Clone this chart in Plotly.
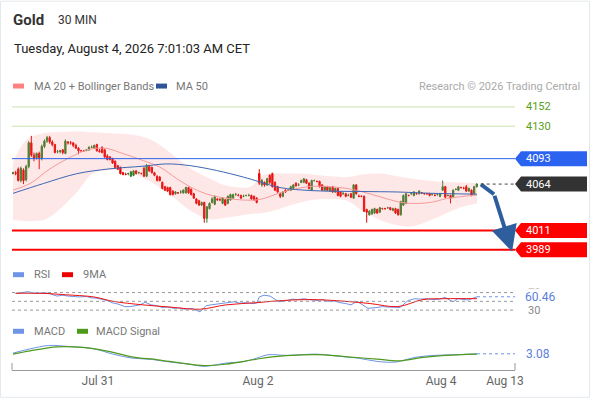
import plotly.graph_objects as go

# ---------------- data ----------------
open_ = [4076,4077,4081,4068,4080,4069,4084,4111,4097,4094,4099,4093,4107,4113,4117,4112,4109,4101,4101,4103,
         4099,4112,4111,4111,4108,4105,4102,4102,4102,4103,4106,4105,4109,4102,4106,4103,4096,4095,4093,4090,
         4085,4083,4077,4075,4076,4073,4074,4079,4077,4076,4082,4073,4084,4083,4077,4073,4072,4066,4061,4060,
         4060,4056,4053,4054,4055,4054,4054,4060,4058,4053,4047,4045,4040,4043,4025,4036,4043,4041,4047,4046,
         4042,4046,4042,4046,4048,4052,4051,4051,4050,4051,4051,4051,4050,4048,4076,4063,4066,4063,4074,4076,
         4066,4061,4053,4050,4057,4057,4057,4059,4065,4063,4066,4066,4069,4065,4057,4068,4067,4067,4063,4057,
         4061,4056,4061,4055,4059,4055,4053,4053,4051,4053,4048,4063,4050,4050,4050,4035,4029,4030,4031,4035,
         4032,4036,4036,4037,4037,4034,4036,4035,4029,4040,4042,4051,4053,4051,4053,4053,4054,4053,4053,4053,
         4052,4051,4052,4050,4057,4061,4051,4051,4049,4058,4057,4060,4059,4061,4056,4057,4053,4061]
high = [4078,4079,4083,4084,4082,4086,4113,4119,4100,4100,4101,4109,4115,4119,4119,4114,4110,4103,4103,4104,
        4115,4113,4113,4112,4110,4106,4103,4103,4104,4107,4108,4109,4110,4104,4107,4104,4098,4096,4094,4091,
        4086,4084,4078,4077,4077,4079,4080,4080,4078,4077,4084,4087,4086,4084,4078,4074,4073,4067,4062,4061,
        4061,4057,4056,4055,4057,4058,4061,4061,4059,4054,4048,4046,4044,4044,4039,4043,4049,4051,4048,4048,
        4049,4047,4051,4053,4053,4054,4053,4052,4052,4052,4053,4052,4051,4049,4081,4070,4067,4071,4075,4077,
        4067,4062,4054,4056,4058,4058,4062,4064,4066,4065,4069,4071,4070,4066,4069,4069,4068,4068,4064,4062,
        4062,4061,4062,4060,4060,4056,4055,4054,4053,4054,4064,4064,4052,4051,4051,4036,4034,4036,4037,4036,
        4038,4037,4037,4038,4038,4037,4037,4036,4045,4052,4054,4052,4054,4056,4054,4057,4055,4054,4054,4054,
        4053,4053,4053,4054,4068,4062,4052,4052,4058,4059,4062,4061,4061,4063,4060,4058,4062,4065]
low = [4075,4074,4067,4066,4064,4067,4082,4095,4090,4092,4081,4091,4105,4111,4110,4107,4099,4099,4099,4098,
       4098,4109,4109,4106,4104,4098,4101,4101,4102,4102,4105,4104,4101,4100,4099,4094,4091,4091,4087,4082,
       4080,4075,4074,4074,4074,4072,4073,4075,4076,4075,4072,4072,4078,4076,4073,4067,4067,4058,4056,4055,
       4051,4051,4052,4053,4053,4053,4053,4053,4051,4047,4041,4039,4039,4020,4020,4035,4042,4040,4045,4045,
       4041,4039,4041,4045,4047,4051,4050,4047,4049,4050,4050,4046,4045,4042,4063,4061,4061,4062,4064,4060,
       4056,4054,4048,4049,4054,4056,4056,4058,4061,4062,4065,4065,4064,4058,4056,4067,4066,4060,4056,4056,
       4056,4055,4054,4054,4050,4049,4052,4049,4050,4048,4047,4052,4049,4049,4032,4020,4028,4029,4030,4030,
       4031,4035,4035,4036,4034,4033,4030,4028,4028,4039,4041,4050,4052,4050,4052,4052,4053,4052,4052,4050,
       4051,4050,4051,4049,4056,4048,4050,4042,4048,4057,4056,4059,4058,4055,4055,4050,4052,4060]
close = [4077,4076,4068,4082,4068,4084,4111,4097,4093,4099,4094,4107,4113,4117,4112,4109,4100,4101,4102,4100,
         4113,4111,4111,4108,4105,4102,4102,4102,4103,4106,4106,4108,4102,4101,4100,4095,4092,4092,4088,4083,
         4081,4076,4075,4075,4076,4078,4079,4076,4077,4076,4073,4085,4079,4077,4074,4068,4068,4059,4057,4056,
         4052,4052,4055,4054,4055,4057,4060,4054,4052,4048,4042,4040,4043,4025,4038,4042,4047,4050,4046,4046,
         4048,4040,4050,4052,4052,4052,4051,4048,4050,4051,4051,4047,4046,4043,4065,4068,4063,4070,4066,4061,
         4057,4055,4050,4055,4055,4057,4061,4063,4062,4063,4068,4070,4065,4059,4068,4068,4067,4061,4057,4061,
         4057,4060,4055,4059,4051,4050,4053,4050,4051,4049,4063,4053,4050,4050,4033,4032,4033,4035,4036,4031,
         4037,4036,4036,4037,4035,4036,4031,4029,4044,4051,4053,4051,4053,4055,4053,4056,4054,4053,4053,4051,
         4052,4051,4052,4053,4061,4049,4051,4048,4057,4058,4061,4060,4059,4056,4059,4051,4061,4064]

ma20_idx = [0, 6.5, 14.1, 21.8, 29.4, 35.8, 40.8, 49.7, 56.1, 62.5, 68.8, 75.2, 81.6, 87.9, 94.3,
            101.9, 108.4, 114.5, 121, 127.5, 133.6, 140.1, 146.6, 151.5, 159.2, 165.6, 171.8, 177.1]
ma20 = [4057, 4064.6, 4081.4, 4094.5, 4103.9, 4104.6, 4100, 4090.8, 4083.3, 4070.2, 4059, 4051.5, 4047.8,
        4045.8, 4046.5, 4054, 4059, 4061.5, 4061, 4059, 4055, 4049.5, 4044, 4042, 4043, 4047.5, 4050, 4051.5]

ma50_idx = [0, 11.6, 24.3, 37, 49.7, 58.7, 67.6, 77.7, 87.9, 94.3, 101.9, 114.5, 133.6, 146.6, 159.2, 177.1]
ma50 = [4053.4, 4064.6, 4075.8, 4081.4, 4084.4, 4087, 4085, 4079.5, 4072, 4066.4, 4060, 4056.5, 4055.5,
        4055, 4053.5, 4052.5]

bb_idx = [0, 5.3, 11.5, 15.3, 24.4, 30.5, 37, 43.5, 52.3, 59.9, 67.6, 75.2, 81.7, 90.5, 95.4, 101.9,
          108.4, 114.5, 121, 127.5, 133.6, 140.1, 146.6, 152.7, 161.8, 169.5, 177.1]
bb_upper = [4089, 4115, 4122, 4123, 4124, 4123, 4122, 4121, 4115, 4100, 4082, 4070, 4062, 4061, 4074, 4076,
            4076, 4075, 4073, 4072, 4075, 4076, 4073, 4070, 4067, 4066, 4065]
bb_lower = [4023, 4022, 4023, 4029, 4055, 4076, 4080, 4079, 4067, 4052, 4034, 4024, 4026, 4030, 4031, 4036,
            4042, 4046, 4047, 4045, 4033, 4023, 4017, 4016, 4026, 4036, 4042]

rsi_idx = [1, 3, 5.7, 8, 9.5, 12, 13.7, 16.8, 19, 21, 25.2, 28, 29.8, 32, 34, 36, 38.2, 40, 42.7, 44.7,
           48.5, 50.4, 52.7, 55, 56.9, 59, 61.5, 63.5, 65.6, 68.3, 71.4, 73.7, 75.6, 78.6, 81.3, 84.4, 86.5,
           88.5, 91.6, 93, 94, 95.8, 98.1, 101.5, 104.6, 106.5, 108.8, 111, 113, 116, 118, 120.2, 122.5, 124.8,
           127, 129, 131.3, 133.2, 135.5, 138.9, 141, 143.5, 145.5, 147.7, 150.8, 153.4, 155.5, 157.6, 160.7,
           162.8, 164.9, 166, 167.9, 169.8, 171.5, 173.7, 175.5, 177.1]
rsi = [67.7, 70, 72, 69, 68, 70, 68, 62, 64, 62, 60, 61, 58, 57, 54, 52, 46, 44, 38, 38,
       42, 48, 42, 40, 36, 37, 34, 35, 32, 34, 26, 40, 42, 44, 47, 49, 46,
       47, 45, 46, 60, 64, 62, 49, 52, 55, 54, 56, 54, 52, 54, 50, 51, 47,
       45, 42, 50, 42, 34, 36, 38, 37, 36, 36, 52, 56, 55, 56, 54,
       55, 59, 56, 49, 56, 55, 53, 57, 60.46]

rsi_ma_idx = [1, 12.2, 20, 30.9, 38.2, 49.6, 59.9, 71.4, 81.3, 93.1, 103, 114.5, 124.8, 136.3, 146.9,
              156.5, 164.9, 177.1]
rsi_ma = [68.5, 68, 65, 60, 50, 42, 37, 32, 42, 47, 52, 54, 51, 45, 38, 54, 56, 56]

macd_idx = [0, 6.5, 13.7, 21, 30.9, 38.2, 45.4, 52.7, 59.9, 67.2, 72.9, 81.3, 88.5, 93.1, 97.3, 104.6,
            116, 124.8, 131.7, 138.9, 146.2, 153.4, 160.7, 167.9, 177.1]
macd = [3.9, 8.6, 12.4, 11.3, 8.6, 2.7, -1.7, -3.1, -6.1, -8.4, -10.9, -7.3, -5.4, -1.7, 2, 1.3,
        2.7, 0.2, -1.7, -5.4, -6.1, -0.9, 1.3, 2, 3.08]
signal_idx = [0, 6.5, 16.8, 26.7, 35.5, 45.4, 55.3, 64.1, 72.9, 81.3, 91.6, 98.9, 110.3, 119.1, 127.5,
              138.9, 147.7, 156.5, 164.9, 177.1]
signal = [2.7, 6.4, 10.9, 10.2, 6.4, -0.3, -3.6, -7.3, -10.2, -8.4, -3.6, -0.3, 2, 2, -0.3,
          -2.8, -4.7, -0.9, 1.3, 2.7]

resistances = [4152, 4130]
pivot = 4093
last_price = 4064
supports = [4011, 3989]
rsi_last = 60.46
macd_last = 3.08
rsi_levels = [70, 50, 30]
rsi_labels = [70, 30]

tick_pos = [32.4, 93.5, 163.4, 187.8]
tick_text = ["Jul 31", "Aug 2", "Aug 4", "Aug 13"]

forecast_x = [178.6, 183.6, 190.5]
forecast_y = [4063.7, 4052.4, 3987]

# ---------------- layout helpers ----------------
W, H = 590, 400
PL, PR, PT, PB = 12, 515, 95, 372
X_RANGE = [-0.38, 191.6]


def px(x):
    return (x - PL) / (PR - PL)


def py(y):
    return (PB - y) / (PB - PT)


FONT = "Roboto, Arial, sans-serif"
GREEN_C = "#2f7d27"
RED_C = "#e60000"
BLUE_LEVEL = "#2b63f0"
RSI_BLUE = "#6f93e6"

fig = go.Figure()

# Bollinger band
fig.add_trace(go.Scatter(x=bb_idx, y=bb_upper, mode="lines", line=dict(width=0, shape="spline"),
                         hoverinfo="skip", showlegend=False))
fig.add_trace(go.Scatter(x=bb_idx, y=bb_lower, mode="lines", line=dict(width=0, shape="spline"),
                         fill="tonexty", fillcolor="rgba(250,120,120,0.18)", hoverinfo="skip",
                         showlegend=False))
fig.add_trace(go.Scatter(x=ma20_idx, y=ma20, mode="lines",
                         line=dict(color="#f39a9a", width=1, shape="spline"), showlegend=False))
fig.add_trace(go.Scatter(x=ma50_idx, y=ma50, mode="lines",
                         line=dict(color="#3d66b3", width=1, shape="spline"), showlegend=False))

fig.add_trace(go.Candlestick(
    x=list(range(len(close))), open=open_, high=high, low=low, close=close,
    increasing=dict(line=dict(color=GREEN_C, width=1), fillcolor=GREEN_C),
    decreasing=dict(line=dict(color=RED_C, width=1), fillcolor=RED_C),
    whiskerwidth=0, showlegend=False))

# forecast arrow shaft
fig.add_trace(go.Scatter(x=forecast_x[:2], y=forecast_y[:2], mode="lines",
                         line=dict(color="#2e5e9e", width=4), showlegend=False))

# RSI panel
fig.add_trace(go.Scatter(x=rsi_idx, y=rsi, mode="lines", yaxis="y2",
                         line=dict(color=RSI_BLUE, width=1), showlegend=False))
fig.add_trace(go.Scatter(x=rsi_ma_idx, y=rsi_ma, mode="lines", yaxis="y2",
                         line=dict(color="#ee1111", width=1, shape="spline"), showlegend=False))

# MACD panel
fig.add_trace(go.Scatter(x=macd_idx, y=macd, mode="lines", yaxis="y3",
                         line=dict(color=RSI_BLUE, width=1, shape="spline"), showlegend=False))
fig.add_trace(go.Scatter(x=signal_idx, y=signal, mode="lines", yaxis="y3",
                         line=dict(color="#4f9a1c", width=1.2, shape="spline"), showlegend=False))

shapes = []
annotations = []

# level lines
for lv in resistances:
    shapes.append(dict(type="line", xref="paper", x0=0, x1=1, yref="y", y0=lv, y1=lv,
                       line=dict(color="#c9e2ae", width=1)))
    annotations.append(dict(text=str(lv), xref="paper", x=px(524), xanchor="left", yref="y", y=lv,
                            showarrow=False, font=dict(size=11, color="#5a9e22", family=FONT)))
shapes.append(dict(type="line", xref="paper", x0=0, x1=1, yref="y", y0=pivot, y1=pivot,
                   line=dict(color=BLUE_LEVEL, width=1)))
for lv in supports:
    shapes.append(dict(type="line", xref="paper", x0=0, x1=1, yref="y", y0=lv, y1=lv,
                       line=dict(color="#ff0000", width=2)))
shapes.append(dict(type="line", xref="x", x0=len(close) + 0.5, x1=X_RANGE[1], yref="y",
                   y0=last_price, y1=last_price, line=dict(color="#444", width=1, dash="dot")))

# boxed labels
for lv, col in [(pivot, BLUE_LEVEL), (last_price, "#333333"), (supports[0], "#ff0000"),
                (supports[1], "#ff0000")]:
    shapes.append(dict(type="path", xref="paper", xsizemode="pixel", xanchor=1.0,
                       yref="y", ysizemode="pixel", yanchor=lv,
                       path="M0,0 L6,7.5 L72,7.5 L72,-7.5 L6,-7.5 Z",
                       fillcolor=col, line=dict(width=0)))
    annotations.append(dict(text=str(lv), xref="paper", x=px(524), xanchor="left", yref="y", y=lv,
                            showarrow=False, font=dict(size=11, color="white", family=FONT)))

# forecast arrow head
annotations.append(dict(x=forecast_x[2], y=forecast_y[2], ax=forecast_x[1], ay=forecast_y[1],
                        xref="x", yref="y", axref="x", ayref="y", showarrow=True,
                        arrowhead=2, arrowsize=1.3, arrowwidth=4, arrowcolor="#2e5e9e",
                        standoff=0, text=""))

# RSI levels
for lv in rsi_levels:
    shapes.append(dict(type="line", xref="paper", x0=0, x1=1, yref="y2", y0=lv, y1=lv,
                       line=dict(color="#999", width=1, dash="dot")))
for lv in rsi_labels:
    annotations.append(dict(text=str(lv), xref="paper", x=px(526), xanchor="left", yref="y2", y=lv,
                            showarrow=False, font=dict(size=11, color="#888", family=FONT)))
shapes.append(dict(type="line", xref="x", x0=rsi_idx[-1], x1=X_RANGE[1], yref="y2",
                   y0=rsi_last, y1=rsi_last, line=dict(color=RSI_BLUE, width=1, dash="dot")))
annotations.append(dict(text=f"{rsi_last:.2f}", xref="paper", x=px(523), xanchor="left", yref="y2",
                        y=rsi_last, showarrow=False, bgcolor="white", borderpad=1,
                        font=dict(size=12, color="#5b80dc", family=FONT)))

# MACD last
shapes.append(dict(type="line", xref="x", x0=macd_idx[-1], x1=X_RANGE[1], yref="y3",
                   y0=macd_last, y1=macd_last, line=dict(color=RSI_BLUE, width=1, dash="dot")))
annotations.append(dict(text=f"{macd_last:.2f}", xref="paper", x=px(524), xanchor="left", yref="y3",
                        y=macd_last, showarrow=False,
                        font=dict(size=12, color="#5b80dc", family=FONT)))

# axis end ticks
for xe in (0, 1):
    shapes.append(dict(type="line", xref="paper", x0=xe, x1=xe, yref="paper", y0=0, y1=py(365),
                       line=dict(color="#999", width=1)))

# outer border
shapes.append(dict(type="rect", xref="paper", yref="paper", x0=px(0.5), x1=px(589.5),
                   y0=py(399.5), y1=py(0.5), line=dict(color="#e4e9ee", width=1)))


def text(t, x, y, size=11, color="#777", bold=False, anchor="left"):
    annotations.append(dict(text=f"<b>{t}</b>" if bold else t, xref="paper", yref="paper",
                            x=px(x), y=py(y), xanchor=anchor, yanchor="middle", showarrow=False,
                            font=dict(size=size, color=color, family=FONT)))


def swatch(x, y, color):
    shapes.append(dict(type="rect", xref="paper", yref="paper", x0=px(x), x1=px(x + 11),
                       y0=py(y + 2.5), y1=py(y - 2.5), fillcolor=color, line=dict(width=0)))


text("Gold", 11, 19, size=15, color="#333", bold=True)
text("30 MIN", 56, 19, size=12, color="#333")
text("Tuesday, August 4, 2026 7:01:03 AM CET", 12, 48, size=13, color="#222")

swatch(13, 86, "#ff8080")
text("MA 20 + Bollinger Bands", 32, 86)
swatch(156, 86, "#2f5597")
text("MA 50", 174, 86)
text("Research © 2026 Trading Central", 582, 86, color="#aaa", anchor="right")

swatch(13, 276, "#6f93e6")
text("RSI", 32, 276)
swatch(62, 276, "#ee0000")
text("9MA", 81, 276)

swatch(13, 333, "#6f93e6")
text("MACD", 32, 333)
swatch(77, 333, "#4f9a1c")
text("MACD Signal", 94, 333)

fig.update_layout(
    width=W, height=H,
    margin=dict(l=PL, r=W - PR, t=PT, b=H - PB, pad=0),
    paper_bgcolor="white", plot_bgcolor="white",
    showlegend=False, hovermode=False,
    font=dict(family=FONT),
    xaxis=dict(range=X_RANGE, anchor="free", position=0, showgrid=False, zeroline=False,
               showline=True, linecolor="#999", linewidth=1, ticks="",
               tickmode="array", tickvals=tick_pos, ticktext=tick_text,
               tickfont=dict(size=12, color="#666", family=FONT),
               rangeslider=dict(visible=False)),
    yaxis=dict(domain=[py(262), 1], range=[3976.5, 4165.6], visible=False, fixedrange=True),
    yaxis2=dict(domain=[py(320), py(286)], range=[11.2, 88.1], visible=False),
    yaxis3=dict(domain=[py(370), py(340)], range=[-12.8, 20.5], visible=False),
    shapes=shapes, annotations=annotations,
)

fig.write_html("out.html", config={"displayModeBar": False},
               post_script="document.body.style.margin='0';document.body.style.padding='0';")
